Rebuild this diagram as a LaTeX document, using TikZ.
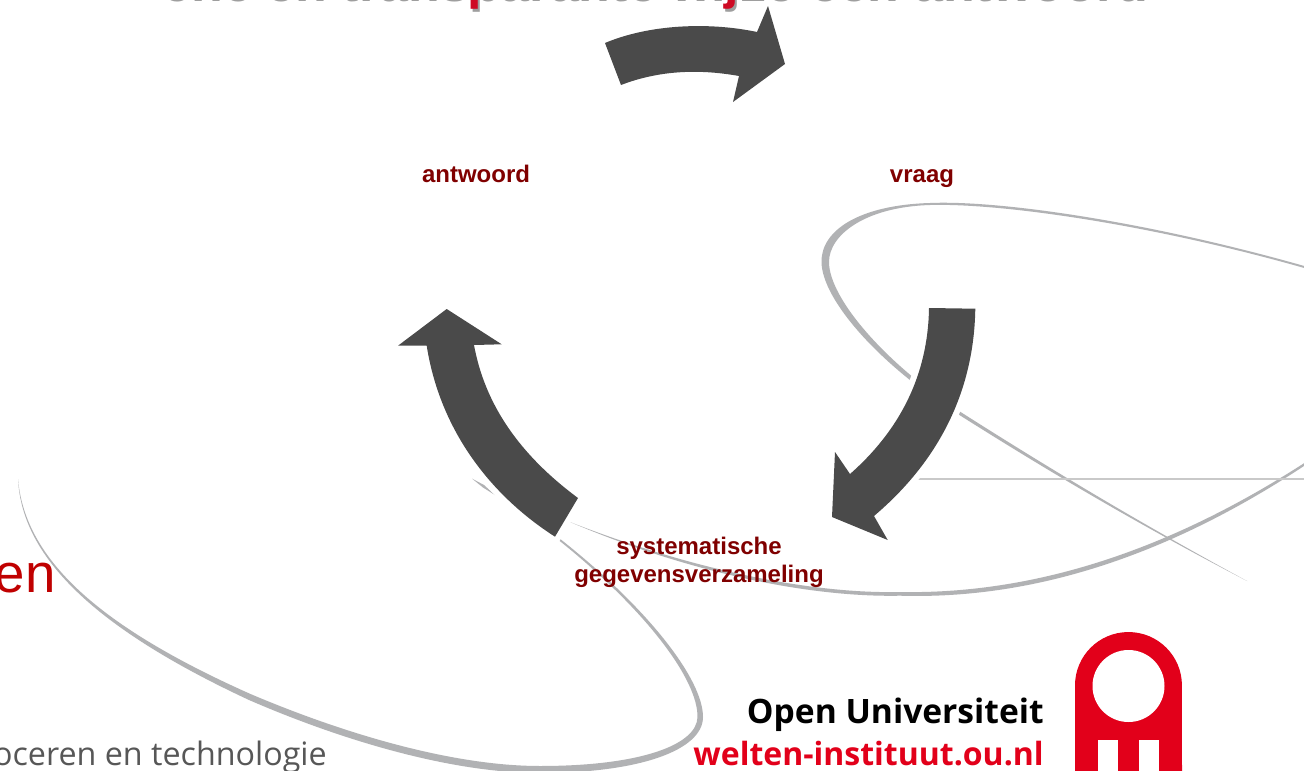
\documentclass[tikz,border=0pt]{standalone}
\usepackage{fontspec}
\setmainfont{Liberation Sans}
\newfontfamily\logofont{Open Sans}
\definecolor{arrowgray}{HTML}{4A4A4A}
\definecolor{swooshgray}{HTML}{B1B2B4}
\definecolor{linegray}{HTML}{C9C9C9}
\definecolor{labelred}{HTML}{800000}
\definecolor{titlered}{HTML}{CE0A24}
\definecolor{enred}{HTML}{C00000}
\definecolor{logored}{HTML}{E2001A}
\newcommand{\titletext}{matische en transparante wijze een antwoord}
\tikzset{
  swoosh/.style={fill=swooshgray,draw=none},
  cyclearrow/.style={fill=arrowgray,draw=none,preaction={draw=white,line width=9pt,line join=round}},
  steplabel/.style={anchor=base,inner sep=0pt,text=labelred,font=\fontsize{18pt}{18pt}\selectfont\bfseries},
  titlelayer/.style={anchor=base east,inner sep=0pt,font=\fontsize{39pt}{39pt}\selectfont\bfseries},
  logotext/.style={anchor=base east,inner sep=0pt},
}
\begin{document}
\begin{tikzpicture}[x=0.75pt,y=-0.75pt]
\useasboundingbox (0,0) rectangle (1304,771);
\clip (0,0) rectangle (1304,771);
\fill[white] (0,0) rectangle (1304,771);

% clipped title line
\begin{scope}
\clip (170,0) rectangle (1304,20);
\node[titlelayer,text=black!38] (titleshadow) at (1148.5,1.5) {\titletext};
\node[titlelayer,text=titlered] (title) at (1147,-2) {\titletext};
\end{scope}

% swooshes
\fill[swoosh] (1306,266.5) .. controls (1150,222) and (1000,200) .. (930,203)
  .. controls (860,205) and (821,230) .. (821.5,262)
  .. controls (822,300) and (880,365) .. (957,413.5)
  .. controls (1040,466) and (1130,520) .. (1247,581)
  .. controls (1130,517.5) and (1040,462.5) .. (959,411)
  .. controls (885,363) and (829,298) .. (829,262)
  .. controls (829,235) and (865,207) .. (930,205)
  .. controls (1000,203) and (1150,224) .. (1306,268.5) -- cycle;
\fill[swoosh] (1310,462) .. controls (1200,535.5) and (1060,600.5) .. (900,595.7)
  .. controls (810,597.5) and (690,573) .. (570,522)
  .. controls (690,569) and (810,594) .. (900,592)
  .. controls (1060,595) and (1200,531) .. (1309,460) -- cycle;
\fill[swoosh] (18,479) .. controls (22,560) and (100,630.5) .. (249,700)
  .. controls (340,739.5) and (450,773) .. (540,773)
  .. controls (640,773) and (703,750) .. (703,717)
  .. controls (703,680) and (650,610) .. (560.5,539.2)
  -- (559.5,540.8)
  .. controls (647,611) and (698,680) .. (697.5,717)
  .. controls (697,745) and (640,766) .. (540,766)
  .. controls (450,766) and (340,732) .. (250.5,694)
  .. controls (100,627) and (25,560) .. (18,479) -- cycle;
\fill[swoosh] (472,478.6) -- (484,485) -- (495,495) -- (483,487.5) -- cycle;
\draw[linegray,line width=1.2pt] (918,479) -- (1304,479);

% cycle arrows
\path[cyclearrow] (605,43) .. controls (650,24) and (710,22) .. (757,32)
  -- (768,6) -- (785,64) -- (733,102) -- (739,76)
  .. controls (700,69) and (660,70) .. (621,85) -- cycle;
\path[cyclearrow] (929,308) -- (975.3,308.7)
  .. controls (974,390) and (940,460) .. (874,516)
  -- (887.7,540) -- (832,517) -- (835,452) -- (850,474)
  .. controls (900,430) and (928,375) .. (929,308) -- cycle;
\path[cyclearrow] (446.7,309) -- (501.7,344.3) -- (474,345)
  .. controls (485,405) and (520,455) .. (578,498)
  -- (555,536.7)
  .. controls (490,495) and (440,430) .. (426.7,345.7)
  -- (398,345.7) -- cycle;

% labels
\node[steplabel] (antwoord) at (476,182) {antwoord};
\node[steplabel] (vraag) at (922,182) {vraag};
\node[steplabel] (verzamelinga) at (699,554) {systematische};
\node[steplabel] (verzamelingb) at (699,582) {gegevensverzameling};

% fragments of other slide text
\node[anchor=base east,inner sep=0pt,text=enred,font=\fontsize{41pt}{41pt}\selectfont] (en) at (56,592) {en};
\node[anchor=base east,inner sep=0pt,text=black!66,font=\logofont\fontsize{24.2pt}{24.2pt}\selectfont] (sub) at (327,765) {oceren en technologie};

% logo
\node[logotext,text=black,font=\logofont\fontsize{25.2pt}{25.2pt}\selectfont\bfseries] (ou) at (1044,723) {Open Universiteit};
\node[logotext,text=logored,font=\logofont\fontsize{24pt}{24pt}\selectfont\bfseries] (web) at (1044,765) {welten-instituut.ou.nl};
\fill[logored] (1075,780) -- (1075,685.5) arc[start angle=180,end angle=0,radius=40.1pt] -- (1182,780) -- cycle;
\fill[white] (1128.5,686) circle[radius=27pt];
\fill[white] (1098,740) rectangle (1118,780);
\fill[white] (1139,740) rectangle (1159,780);
\end{tikzpicture}
\end{document}
